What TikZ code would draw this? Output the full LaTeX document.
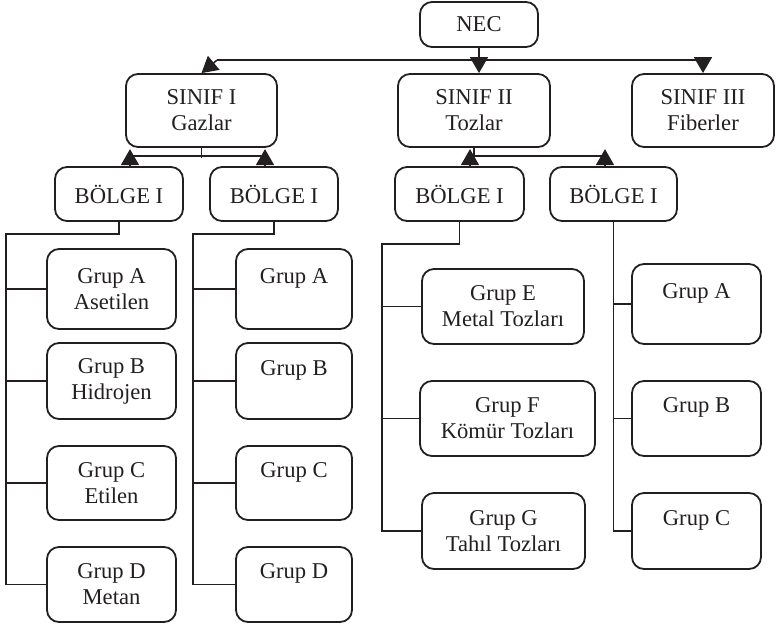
\documentclass[tikz,border=0pt]{standalone}
\usepackage{fontspec}
\setmainfont{Liberation Serif}
\usetikzlibrary{arrows.meta,calc}
\definecolor{ink}{HTML}{231F20}

\begin{document}
\begin{tikzpicture}[
  x=0.5pt, y=-0.5pt,
  font=\fontsize{11.3}{13}\selectfont, text=ink,
  box/.style={draw=ink,rounded corners=6pt,line width=.9pt,align=center,inner sep=0pt},
  link/.style={draw=ink,line width=.75pt},
  arr/.style={-{Triangle[length=8pt,width=9pt]},draw=ink,line width=.75pt}
]
\useasboundingbox (0,0) rectangle (776,627);
% Top levels: NEC and the three classes.
\node[box,minimum width=59pt,minimum height=22.5pt] (nec) at (479,24.5) {NEC};
\node[box,minimum width=75.5pt,minimum height=36.5pt] (s1) at (201.5,110.5) {SINIF I\\Gazlar};
\node[box,minimum width=76pt,minimum height=36.5pt] (s2) at (474,110.5) {SINIF II\\Tozlar};
\node[box,minimum width=71pt,minimum height=36.5pt] (s3) at (703,110.5) {SINIF III\\Fiberler};
\draw[link] (nec.south) -- ($(s2.north)+(5,-13)$);
\draw[link] ($(s1.north)+(15.5,-13)$) -- ($(s3.north)+(0,-13)$);
\draw[arr] ($(s1.north)+(15.5,-13)$) -- (s1.north);
\foreach \n/\dx in {s2/5,s3/0}
  \draw[arr] ($(\n.north)+(\dx,-16)$) -- ($(\n.north)+(\dx,0)$);
% Divisions.
\node[box,minimum width=64pt,minimum height=27pt] (b1) at (119,194) {BÖLGE I};
\node[box,minimum width=64pt,minimum height=27pt] (b2) at (274,194) {BÖLGE I};
\node[box,minimum width=64.5pt,minimum height=27pt] (b3) at (459.5,194) {BÖLGE I};
\node[box,minimum width=63.5pt,minimum height=27pt] (b4) at (613.5,194) {BÖLGE I};
\draw[link] (s1.south) -- ++(0,10);
\draw[link] (s2.south) -- ++(0,10);
\draw[link] ($(b1.north)+(11,-10)$) -- ($(b2.north)+(-9,-10)$);
\draw[link] ($(b3.north)+(10.5,-10)$) -- ($(b4.north)+(-8.5,-10)$);
\foreach \n/\dx in {b1/11,b2/-9,b3/10.5,b4/-8.5}
  \draw[arr] ($(\n.north)+(\dx,0)$) -- ++(0,-17);
% Groups under the gas divisions.
\node[box,minimum width=64.5pt,minimum height=40pt] (g1a) at (111.5,289) {Grup A\\Asetilen};
\node[box,minimum width=64.5pt,minimum height=38pt] (g1b) at (111.5,381) {Grup B\\Hidrojen};
\node[box,minimum width=64.5pt,minimum height=37pt] (g1c) at (111.5,483) {Grup C\\Etilen};
\node[box,minimum width=64.5pt,minimum height=37.5pt] (g1d) at (111.5,584.5) {Grup D\\Metan};
\node[box,minimum width=58pt,minimum height=40pt] (g2a) at (294,289) {Grup A\\\mbox{}};
\node[box,minimum width=58pt,minimum height=38pt] (g2b) at (294,381) {Grup B\\\mbox{}};
\node[box,minimum width=58pt,minimum height=37pt] (g2c) at (294,483) {Grup C\\\mbox{}};
\node[box,minimum width=58pt,minimum height=37.5pt] (g2d) at (294,584.5) {Grup D\\\mbox{}};
\coordinate (rail1) at (6,234);
\coordinate (rail2) at (193,234);
\draw[link] (b1.south) |- (rail1) |- (g1d.west);
\draw[link] (b2.south) |- (rail2) |- (g2d.west);
\foreach \g in {g1a,g1b,g1c}
  \draw[link] (rail1 |- \g.west) -- (\g.west);
\foreach \g in {g2a,g2b,g2c}
  \draw[link] (rail2 |- \g.west) -- (\g.west);
% Groups under the dust divisions.
\node[box,minimum width=81pt,minimum height=37.5pt] (g3e) at (503,306.5) {Grup E\\Metal Tozları};
\node[box,minimum width=87.5pt,minimum height=37.5pt] (g3f) at (507.5,418.5) {Grup F\\Kömür Tozları};
\node[box,minimum width=81.5pt,minimum height=38pt] (g3g) at (503.5,531) {Grup G\\Tahıl Tozları};
\node[box,minimum width=64.5pt,minimum height=40pt] (g4a) at (696.5,304) {Grup A\\\mbox{}};
\node[box,minimum width=64.5pt,minimum height=37.5pt] (g4b) at (696.5,418.5) {Grup B\\\mbox{}};
\node[box,minimum width=64.5pt,minimum height=38pt] (g4c) at (696.5,531) {Grup C\\\mbox{}};
\coordinate (rail3) at (382,244);
\draw[link] (b3.south) |- (rail3) |- (g3g.west);
\foreach \g in {g3e,g3f}
  \draw[link] (rail3 |- \g.west) -- (\g.west);
\draw[link] (b4.south) |- (g4c.west);
\foreach \g in {g4a,g4b}
  \draw[link] (b4.south |- \g.west) -- (\g.west);
\end{tikzpicture}
\end{document}
